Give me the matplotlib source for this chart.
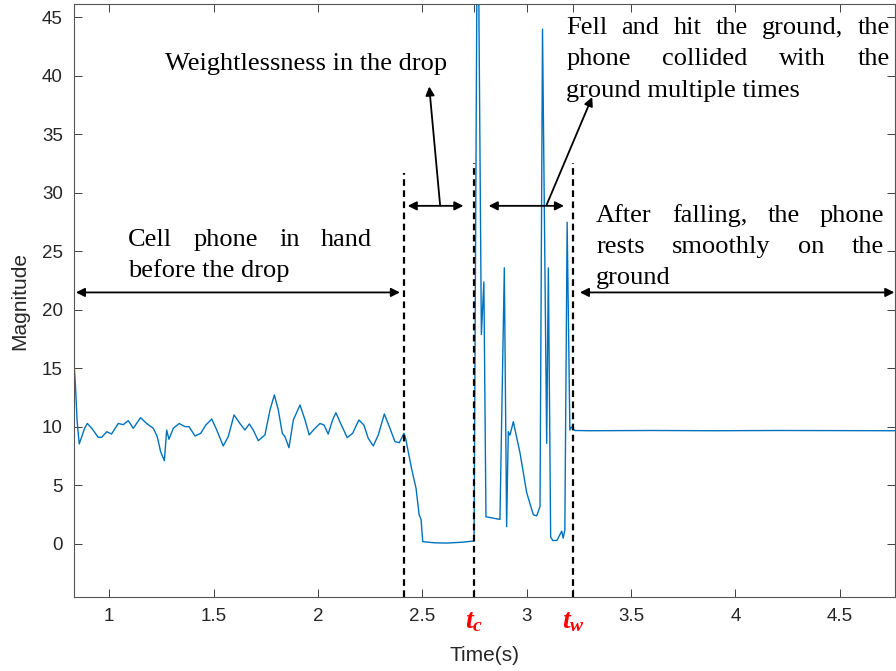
import matplotlib
matplotlib.use('Agg')
import matplotlib.pyplot as plt
import numpy as np

# 手持阶段 (s, magnitude)
t_hand = [0.830, 0.838, 0.846, 0.856, 0.868, 0.882, 0.895, 0.916, 0.947, 0.964,
          0.988, 1.011, 1.043, 1.067, 1.091, 1.115, 1.150, 1.179, 1.211, 1.230,
          1.246, 1.264, 1.275, 1.286, 1.307, 1.335, 1.363, 1.382, 1.411, 1.438,
          1.463, 1.491, 1.515, 1.546, 1.570, 1.598, 1.626, 1.650, 1.671, 1.690,
          1.714, 1.746, 1.770, 1.791, 1.810, 1.829, 1.842, 1.861, 1.882, 1.914,
          1.938, 1.958, 1.981, 2.010, 2.029, 2.049, 2.070, 2.086, 2.105, 2.140,
          2.166, 2.196, 2.220, 2.241, 2.265, 2.289, 2.318, 2.342, 2.369, 2.390,
          2.412]
mag_hand = [15.8, 13.5, 10.5, 8.55, 9.17, 9.9, 10.3, 9.89, 9.12, 9.12,
            9.6, 9.4, 10.3, 10.2, 10.54, 9.89, 10.8, 10.3, 9.89, 9.17,
            7.89, 7.12, 9.74, 8.95, 9.89, 10.3, 10.03, 10.03, 9.23, 9.46,
            10.17, 10.68, 9.74, 8.38, 9.17, 11.03, 10.3, 9.74, 10.26, 9.74,
            8.83, 9.32, 11.45, 12.74, 11.45, 9.46, 9.17, 8.23, 10.6, 11.88,
            10.6, 9.32, 9.8, 10.3, 10.17, 9.4, 10.6, 11.22, 10.45, 9.09,
            9.46, 10.6, 10.17, 9.03, 8.38, 9.32, 11.11, 10.03, 8.74, 8.66,
            9.46]

# 失重下落
t_drop = [2.420, 2.449, 2.470, 2.485, 2.494, 2.502, 2.560, 2.617, 2.690]
mag_drop = [9.03, 6.4, 4.76, 2.48, 2.1, 0.2, 0.1, 0.08, 0.15]

# 撞击地面
t_hit = [2.748, 2.765, 2.783, 2.795, 2.805, 2.872, 2.893, 2.904, 2.912, 2.920,
         2.936, 2.968, 3.000, 3.032, 3.048, 3.064, 3.076, 3.096, 3.104, 3.115,
         3.125, 3.145, 3.168, 3.175, 3.183, 3.194, 3.207, 3.215, 3.231]
mag_hit = [0.26, 60.0, 17.9, 22.4, 2.33, 2.1, 23.6, 1.48, 9.6, 9.3,
           10.45, 7.8, 4.4, 2.5, 2.4, 3.2, 44.0, 8.6, 23.6, 0.6,
           0.3, 0.3, 1.1, 0.5, 1.2, 27.5, 9.74, 10.0, 9.7]

# 静止
t_rest = [3.30, 3.60, 3.90, 4.20, 4.50, 4.77]
mag_rest = [9.68, 9.70, 9.68, 9.70, 9.69, 9.68]

# 事件时刻
t_release = 2.4135
t_c = 2.7475
t_w = 3.2233

xticks = [1, 1.5, 2, 2.5, t_c, 3, t_w, 3.5, 4, 4.5]
xticklabels = ['1', '1.5', '2', '2.5', r'$t_c$', '3', r'$t_w$', '3.5', '4', '4.5']
yticks = [0, 5, 10, 15, 20, 25, 30, 35, 40, 45]

plt.rcParams['font.family'] = ['Liberation Sans', 'DejaVu Sans']
plt.rcParams['mathtext.fontset'] = 'custom'
plt.rcParams['mathtext.it'] = 'Liberation Serif:italic:bold'
plt.rcParams['mathtext.rm'] = 'Liberation Serif:bold'

t = np.concatenate([t_hand, t_drop, t_hit, t_rest])
mag = np.concatenate([mag_hand, mag_drop, mag_hit, mag_rest])

fig = plt.figure(figsize=(8.96, 6.71), dpi=100)
ax = fig.add_axes([74 / 896, 74 / 671, 821 / 896, 593 / 671])

ax.plot(t, mag, color='#0072BD', lw=1.0)
ax.set_xlim(0.831, 4.765)
ax.set_ylim(-4.53, 46.15)

# 虚线
for x, top in [(t_release, 31.7), (t_c, 32.6), (t_w, 32.6)]:
    ax.plot([x, x], [-4.53, top], color='k', ls=(0, (3, 2)), lw=1.6)

ax.set_xticks(xticks)
ax.set_xticklabels(xticklabels)
ax.set_yticks(yticks)
ax.tick_params(direction='in', length=6, width=0.7, top=True, right=True,
               labelsize=13.5, labelcolor='#262626', color='#404040', pad=8)
for lab in ax.get_xticklabels():
    if lab.get_text().startswith('$'):
        lab.set_color('red')
        lab.set_fontsize(20)
for s in ax.spines.values():
    s.set_color('#555555')
    s.set_linewidth(0.8)

ax.set_xlabel('Time(s)', fontsize=15, color='#262626')
ax.set_ylabel('Magnitude', fontsize=15, color='#262626')
ax.xaxis.set_label_coords(0.5, -0.098)
ax.xaxis.label.set_va('center')
ax.yaxis.set_label_coords(-0.066, 0.5)
ax.yaxis.label.set_va('center')

# 箭头
def arrow(x0, y0, x1, y1, style):
    ax.annotate('', xy=(x1, y1), xytext=(x0, y0),
                arrowprops=dict(arrowstyle=style, color='k', lw=1.3,
                                mutation_scale=13, shrinkA=0, shrinkB=0))

arrow(0.84, 21.5, 2.393, 21.5, '<|-|>')
arrow(2.43, 28.9, 2.697, 28.9, '<|-|>')
arrow(2.818, 28.9, 3.179, 28.9, '<|-|>')
arrow(3.255, 21.5, 4.762, 21.5, '<|-|>')
arrow(2.585, 29.0, 2.533, 39.1, '-|>')
arrow(3.096, 29.0, 3.314, 38.2, '-|>')

# 两端对齐的文字
font = dict(family=['Liberation Serif', 'DejaVu Serif'], fontsize=19, color='k', va='baseline')
renderer = fig.canvas.get_renderer()


def put_line(text, x0, x1, y, justify=True):
    if not justify:
        ax.text(x0, y, text, ha='left', **font)
        return
    words = text.split()
    objs = [ax.text(x0, y, w, ha='left', **font) for w in words]
    widths = [o.get_window_extent(renderer).width for o in objs]
    left = ax.transData.transform((x0, y))[0]
    right = ax.transData.transform((x1, y))[0]
    gap = (right - left - sum(widths)) / (len(words) - 1)
    pos = left
    inv = ax.transData.inverted()
    for o, w in zip(objs, widths):
        o.set_x(inv.transform((pos, 0))[0])
        pos += w + gap


put_line('Cell phone in hand', 1.090, 2.259, 25.5)
put_line('before the drop', 1.090, 2.259, 22.8, justify=False)
put_line('Weightlessness in the drop', 1.267, 2.618, 40.5, justify=False)
put_line('Fell and hit the ground, the', 3.189, 4.741, 43.6)
put_line('phone collided with the', 3.189, 4.741, 40.9)
put_line('ground multiple times', 3.189, 4.741, 38.2, justify=False)
put_line('After falling, the phone', 3.333, 4.713, 27.55)
put_line('rests smoothly on the', 3.333, 4.713, 24.9)
put_line('ground', 3.333, 4.713, 22.2, justify=False)

fig.savefig('out.png', dpi=100)
